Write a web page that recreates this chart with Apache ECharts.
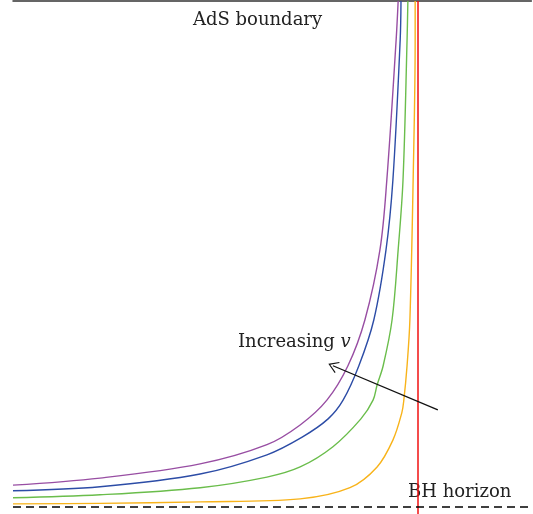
<!DOCTYPE html>
<html lang="en">
<head>
    <meta charset="UTF-8">
    <title>AdS boundary</title>
    <script src="https://cdn.jsdelivr.net/npm/echarts@6/dist/echarts.min.js"></script>
</head>
<style>
    body{
        margin: 0;
    }
    #chart{
        width: 533px;
        height: 514px;
        background-color: #fff;
    }
</style>
<body>
    <div id="chart"></div>
    <script>
        // x: distance along the boundary (horizon at x=1), z: depth (boundary 0, horizon 1)
        var purple=[[0,0.957],[0.215,0.943],[0.462,0.915],[0.627,0.877],[0.709,0.838],[0.775,0.789],[0.827,0.721],[0.869,0.630],[0.906,0.492],[0.923,0.354],[0.946,0.077],[0.951,0]];
        var blue=[[0,0.968],[0.215,0.960],[0.462,0.935],[0.627,0.897],[0.714,0.862],[0.778,0.826],[0.815,0.789],[0.854,0.721],[0.891,0.630],[0.921,0.492],[0.938,0.354],[0.956,0.077],[0.958,0]];
        var green=[[0,0.982],[0.215,0.976],[0.462,0.962],[0.627,0.941],[0.709,0.921],[0.790,0.881],[0.859,0.826],[0.889,0.789],[0.899,0.759],[0.914,0.721],[0.936,0.630],[0.951,0.492],[0.963,0.354],[0.973,0.077],[0.975,0]];
        var orange=[[0,0.994],[0.215,0.993],[0.462,0.990],[0.709,0.984],[0.832,0.962],[0.899,0.921],[0.938,0.868],[0.960,0.814],[0.965,0.789],[0.973,0.721],[0.980,0.630],[0.988,0.354],[0.993,0.077],[0.993,0]];
        var horizon=[[1,0],[1,1.014]];
        var bottom=[[0,1],[1.28,1]];
        var arrowFrom=[1.049,0.808];
        var arrowTo=[0.790,0.721];

        var serif='DejaVu Serif';
        function curve(data,color){
            return {
                type:'line',
                data:data,
                smooth:0.35,
                symbol:'none',
                lineStyle:{color:color,width:1.4},
                silent:true
            }
        }

        var chart=echarts.init(document.getElementById('chart'));
        chart.setOption({
            animation:false,
            grid:{left:13,right:1.6,top:1,bottom:0},
            xAxis:{
                type:'value',
                position:'top',
                min:0,
                max:1.28,
                axisLine:{lineStyle:{color:'#333',width:1.5}},
                axisTick:{show:false},
                axisLabel:{show:false},
                splitLine:{show:false}
            },
            yAxis:{
                type:'value',
                inverse:true,
                min:0,
                max:1.014,
                axisLine:{show:false},
                axisTick:{show:false},
                axisLabel:{show:false},
                splitLine:{show:false}
            },
            series:[
                curve(orange,'#f8b31a'),
                curve(green,'#6abd4b'),
                curve(blue,'#2c4ca6'),
                curve(purple,'#984ea3'),
                {
                    type:'line',
                    data:horizon,
                    symbol:'none',
                    lineStyle:{color:'#f01010',width:1.5}
                },
                {
                    type:'line',
                    data:bottom,
                    symbol:'none',
                    lineStyle:{color:'#000',width:1.5,type:[8,5]},
                    markLine:{
                        silent:true,
                        symbol:['none','path://M0,0 L6,9 L5,9.6 L0,2 L-5,9.6 L-6,9 Z'],
                        symbolSize:[12,10],
                        label:{show:false},
                        lineStyle:{color:'#111',width:1.3,type:'solid'},
                        data:[[{coord:arrowFrom},{coord:arrowTo}]]
                    }
                }
            ],
            graphic:[
                {
                    type:'text',
                    left:193,
                    top:11,
                    style:{text:'AdS boundary',font:'18px '+serif,fill:'#222'}
                },
                {
                    type:'text',
                    left:238,
                    top:333,
                    style:{
                        text:'{a|Increasing }{b|v}',
                        rich:{
                            a:{fontFamily:serif,fontSize:18,fill:'#222'},
                            b:{fontFamily:serif,fontSize:18,fontStyle:'italic',fill:'#222'}
                        }
                    }
                },
                {
                    type:'text',
                    left:408,
                    top:483,
                    style:{text:'BH horizon',font:'18px '+serif,fill:'#222'}
                }
            ]
        });
    </script>
</body>
</html>
